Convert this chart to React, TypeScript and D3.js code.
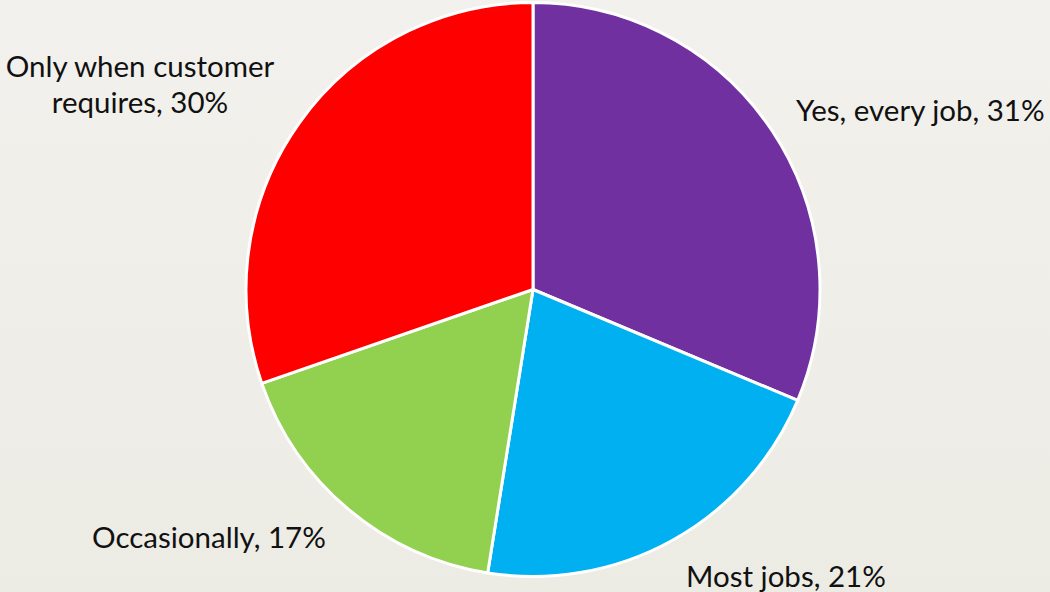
import React from "react";
import * as d3 from "d3";

const categories = ["Yes, every job", "Most jobs", "Occasionally", "Only when customer requires"];
const values = [31, 21, 17, 30];
const colors = ["#7030A0", "#00B0F0", "#92D050", "#FF0000"];
// label anchor points (x, baseline y) and lines
const labelLines = [["Yes, every job, 31%"], ["Most jobs, 21%"], ["Occasionally, 17%"], ["Only when customer", "requires, 30%"]];
const labelX = [796, 686, 92, 140];
const labelY = [121, 587, 548, 77];
const labelAnchor = ["start", "start", "start", "middle"];

const W = 1050;
const H = 592;
const CX = 533;
const CY = 289.5;
const R = 287;

export default function App() {
  const pie = d3.pie<number>().sort(null).value((d) => d);
  const arcs = pie(values);
  const arc = d3.arc<d3.PieArcDatum<number>>().innerRadius(0).outerRadius(R);
  return (
    <svg
      width={W}
      height={H}
      style={{ position: "fixed", left: 0, top: 0, display: "block" }}
      fontFamily="Lato, 'Open Sans', sans-serif"
    >
      <defs>
        <linearGradient id="bg" x1="0" y1="0" x2="0" y2="1">
          <stop offset="0" stopColor="#f2f1ed" />
          <stop offset="1" stopColor="#ecebe4" />
        </linearGradient>
      </defs>
      <rect width={W} height={H} fill="url(#bg)" />
      <g transform={`translate(${CX},${CY})`}>
        {arcs.map((a, i) => (
          <path key={categories[i]} d={arc(a) || ""} fill={colors[i]} stroke="#ffffff" strokeWidth={3} strokeLinejoin="round" />
        ))}
      </g>
      {labelLines.map((lines, i) => (
        <text
          key={categories[i]}
          x={labelX[i]}
          y={labelY[i]}
          textAnchor={labelAnchor[i]}
          fontSize={29.5}
          fill="#111111"
        >
          {lines.map((l, j) => (
            <tspan key={j} x={labelX[i]} dy={j === 0 ? 0 : 36}>
              {l}
            </tspan>
          ))}
        </text>
      ))}
    </svg>
  );
}
